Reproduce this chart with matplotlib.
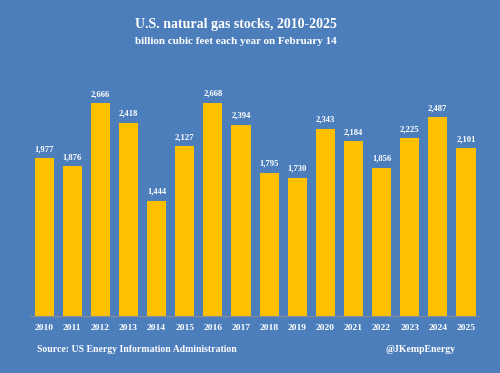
import matplotlib
matplotlib.use("Agg")
import matplotlib.pyplot as plt

years = ["2010", "2011", "2012", "2013", "2014", "2015", "2016", "2017",
         "2018", "2019", "2020", "2021", "2022", "2023", "2024", "2025"]
stocks = [1977, 1876, 2666, 2418, 1444, 2127, 2668, 2394,
          1795, 1730, 2343, 2184, 1856, 2225, 2487, 2101]

bg = "#4d7ebc"
bar_color = "#ffc000"
serif = ["Liberation Serif", "DejaVu Serif"]

fig = plt.figure(figsize=(5, 3.73), dpi=100, facecolor=bg)
ax = fig.add_axes([0.06, 0.1528, 0.90, 0.643])
ax.set_facecolor(bg)

x = list(range(len(years)))
bars = ax.bar(x, stocks, width=0.68, color=bar_color, edgecolor=bar_color, linewidth=0)
ax.set_xlim(-0.5, len(years) - 0.5)
ax.set_ylim(0, 3000)

for xi, v in zip(x, stocks):
    ax.text(xi, v + 60, f"{v:,}", ha="center", va="bottom", color="white",
            fontsize=6.2, fontweight="bold", family=serif)

ax.set_xticks(x)
ax.set_xticklabels(years, color="white", fontsize=6.8, fontweight="bold", family=serif)
ax.tick_params(axis="x", length=0, pad=6)
ax.set_yticks([])
for s in ["top", "right", "left"]:
    ax.spines[s].set_visible(False)
ax.spines["bottom"].set_color("#8a8f99")
ax.spines["bottom"].set_linewidth(0.8)

fig.text(0.472, 0.933, "U.S. natural gas stocks, 2010-2025", ha="center", va="center",
         color="white", fontsize=10, fontweight="bold", family=serif)
fig.text(0.472, 0.89, "billion cubic feet each year on February 14", ha="center", va="center",
         color="white", fontsize=8.0, fontweight="bold", family=serif)
fig.text(0.074, 0.064, "Source: US Energy Information Administration", ha="left", va="center",
         color="white", fontsize=7.0, fontweight="bold", family=serif)
fig.text(0.911, 0.064, "@JKempEnergy", ha="right", va="center",
         color="white", fontsize=7.0, fontweight="bold", family=serif)

fig.savefig("out.png", dpi=100, facecolor=bg)
